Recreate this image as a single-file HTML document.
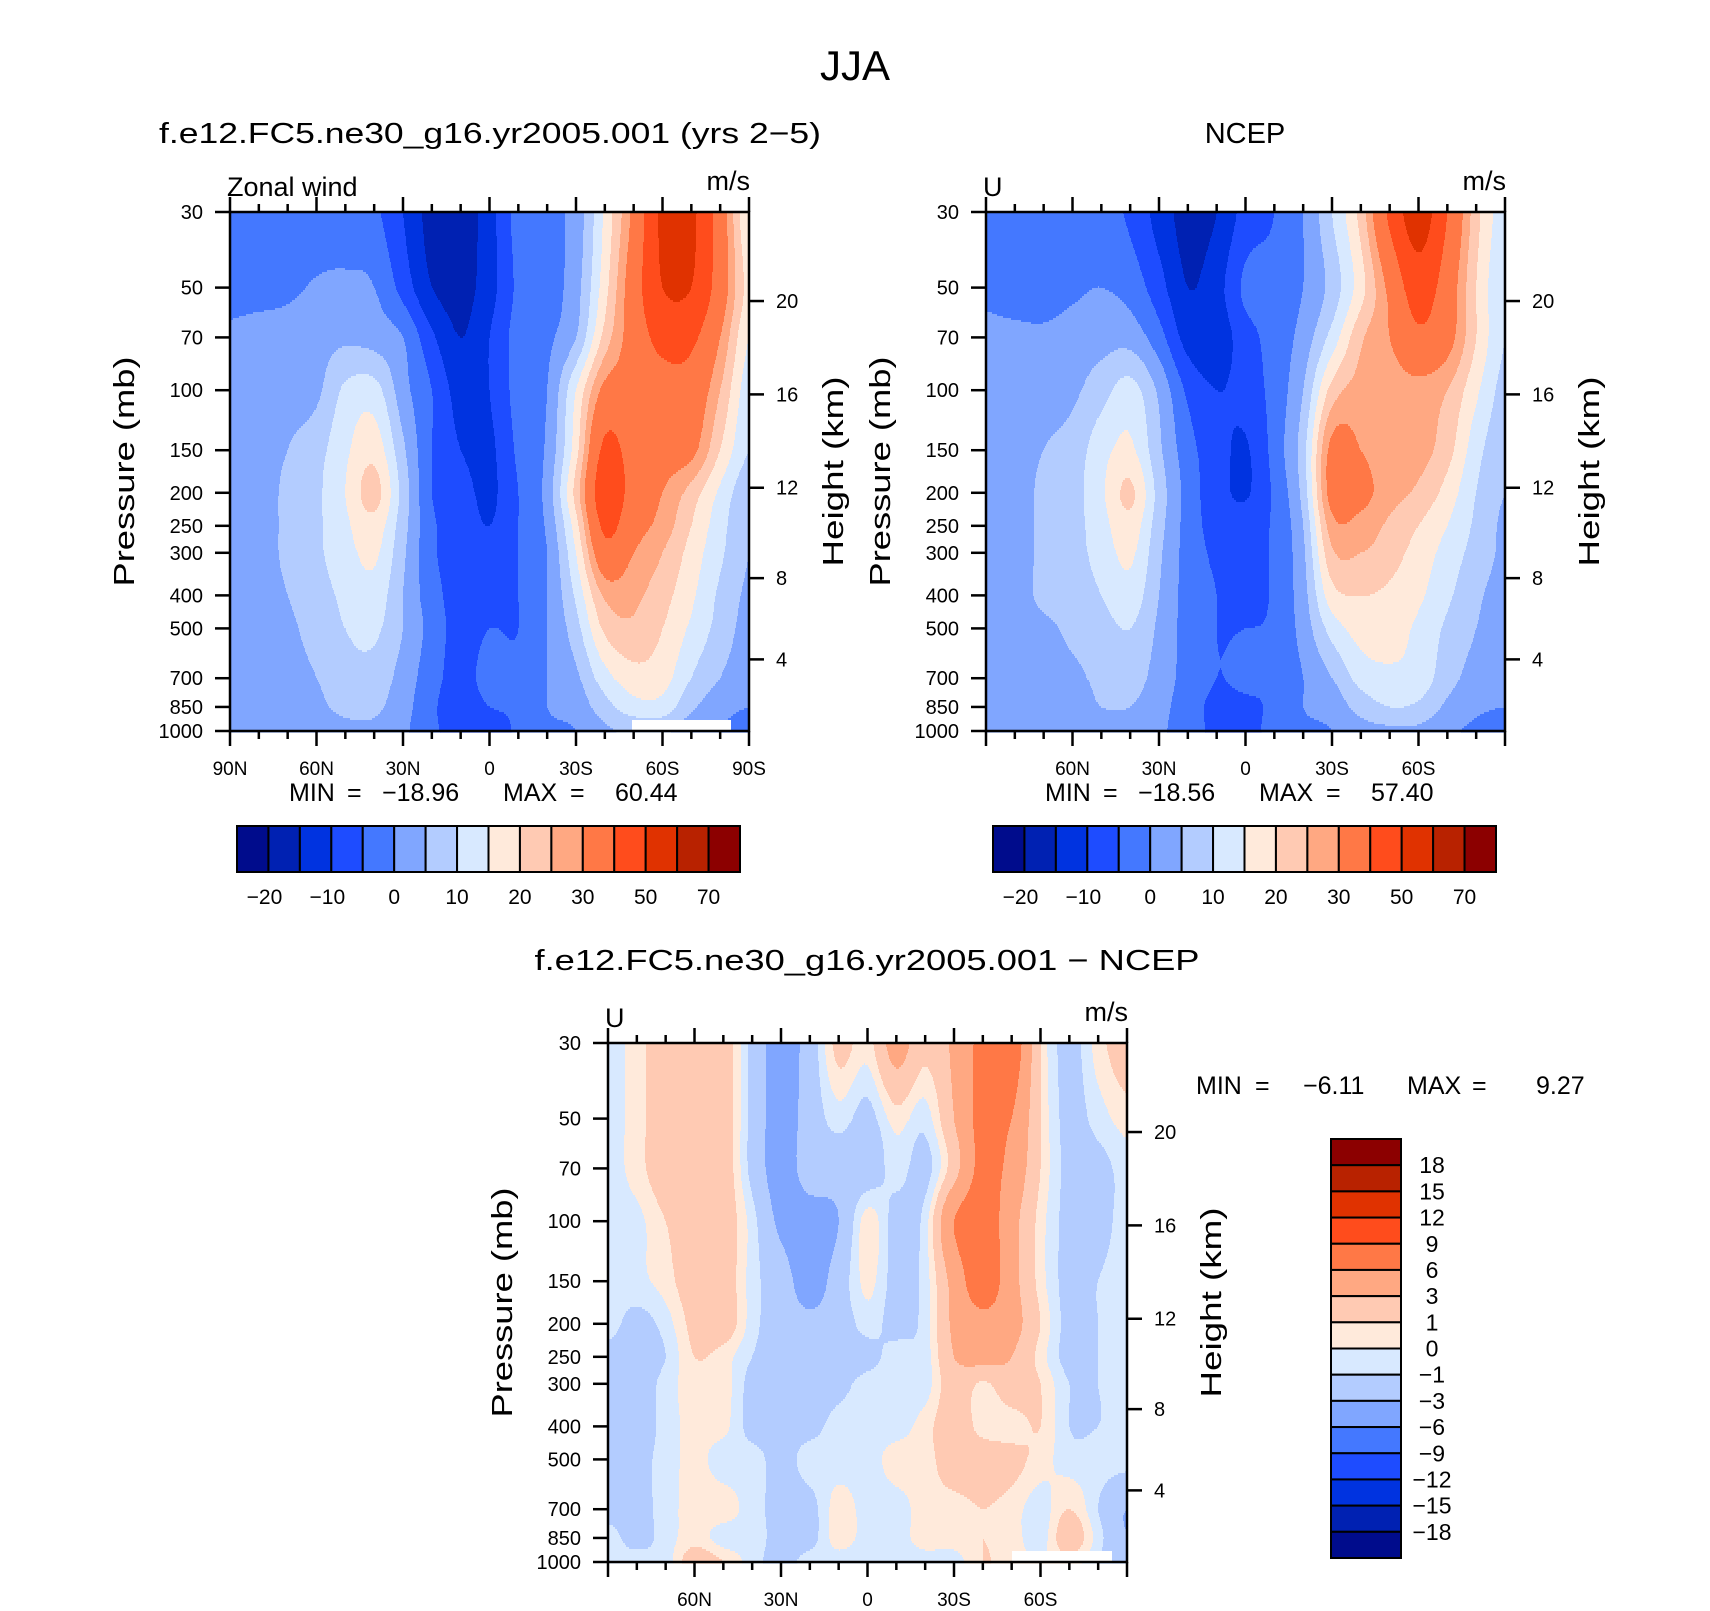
<!DOCTYPE html>
<html><head><meta charset="utf-8"><title>JJA Zonal wind</title>
<style>
html,body{margin:0;padding:0;background:#fff;}
svg{display:block;font-family:"Liberation Sans",sans-serif;}
text{fill:#000;}
</style></head>
<body>
<svg id="fig" xmlns="http://www.w3.org/2000/svg" width="1710" height="1611" viewBox="0 0 1710 1611">
<rect x="0" y="0" width="1710" height="1611" fill="#fff"/>
<text x="855" y="80" font-size="42" text-anchor="middle">JJA</text>
<text x="490" y="143" font-size="29" text-anchor="middle" textLength="662" lengthAdjust="spacingAndGlyphs">f.e12.FC5.ne30_g16.yr2005.001 (yrs 2−5)</text>
<text x="1245" y="143" font-size="29" text-anchor="middle">NCEP</text>
<text x="867" y="970" font-size="29" text-anchor="middle" textLength="665" lengthAdjust="spacingAndGlyphs">f.e12.FC5.ne30_g16.yr2005.001 − NCEP</text>
<g id="p1"></g>
<g id="p2"></g>
<g id="p3"></g>
</svg>
<script>
const lats = [90,80,70,60,50,40,30,20,10,0,-10,-20,-30,-40,-50,-60,-70,-80,-90];
const levels = [30,50,70,100,150,200,250,300,400,500,700,850,1000];
const modelU = [
 [-3,-3,-3,-3,-3,-4,-10,-17,-18,-12,-3,-1,2,16,32,52,52,35,15],
 [-2,-2,-1,0.5,1,0,-7,-15,-17,-12,-4,-2,3,18,35,50,50,35,18],
 [1,2,2,3,4,3,0,-9,-15,-10,-3,-1,5,22,34,43,42,30,15],
 [2,2,3,4,11,12,2,-5,-12,-10,-3,0,15,32,33,36,36,25,12],
 [2,3,5,8,14,18,6,-5,-10,-11,-4,1,18,42,36,34,32,20,10],
 [2,3,6,9,15,22,8,-5,-8,-11,-5,2,22,46,36,30,23,14,6],
 [2,3,6,9,14,18,7,-4,-7,-10,-5,1,18,42,33,28,20,12,5],
 [2,3,6,9,13,16,6,-4,-7,-8,-5,0,15,36,30,25,18,11,5],
 [2,3,5,8,11,13,5,-3,-7,-7,-5,0,11,26,26,22,16,9,4],
 [2,3,4,7,10,11,5,-2,-7,-5,-5,0,8,21,24,20,14,8,3],
 [2,2,3,5,8,8,3,-3,-7,-3,-4,0,4,13,18,17,10,5,2],
 [2,2,2,4,6,6,2,-4,-8,-5,-4,0,2,8,13,13,6,2,0],
 [2,2,2,3,4,4,1,-4,-7,-8,-4,-1,0,4,6,6,2,0,-3]
];
const ncepU = [
 [-3,-3,-3,-3,-3,-6,-12,-17,-15,-8,-5,0,10,22,42,55,40,22,12],
 [-1,-2,-2.5,-1,0,-2,-8,-15,-12,-4,-3,0,7,18,32,45,35,20,10],
 [1,1,1,2,3,3,-3,-12,-13,-7,-3,2,12,24,30,38,33,20,10],
 [2,2,3,4,8,12,4,-6,-10,-8,-3,5,22,27,27,28,25,16,8],
 [2,3,5,7,13,16,6,-3,-8,-10.5,-3,8,32,30,27,27,22,12,6],
 [2,3,6,8,14,21,8,-2,-8,-10.5,-4,7,33,32,27,24,18,10,5],
 [2,3,6,8,13,18,7,-2,-7,-8,-4,5,28,28,24,20,15,9,4],
 [2,3,6,8,12,16,6,-2,-6,-8,-4,4,24,25,22,18,13,8,4],
 [2,3,6,7,10,13,5,-2,-5,-8,-4,3,18,20,19,16,11,6,3],
 [2,3,4,6,8,10,4,-2,-5,-5,-4,2,12,17,17,14,9,5,2],
 [2,2,3,4,6,7,3,-2,-5,-4,-4,0,5,12,14,13,7,3,1],
 [2,2,2,3,5,5,2,-3,-6,-6,-4,0,2,7,10,9,4,1,0],
 [1,1,1,2,3,3,1,-3,-6,-7,-3,-1,0,3,4,4,1,-1,-3]
];
const diffU = [
 [-0.5,0.5,2,2,2,-1.5,-4,-2,1.5,0.5,4,1.5,3.5,7,8,1,-1.5,0.5,2],
 [-0.5,0.5,2,2,2,-1.5,-4,-2,-0.5,-1.5,0.5,-0.5,3,7,6,1,-1.5,-0.5,0.5],
 [-0.5,0.5,2,2,2,-1.5,-4,-2,-2,-2,-0.5,-1.5,2,7,5,1,-1.5,-1.5,-0.5],
 [-0.5,-0.3,1,2,2,-0.5,-3.5,-4,-3,0.5,-1.5,-0.5,6,8,4,0.5,-1.5,-1.5,-0.5],
 [-0.5,-0.3,0.5,2,2,-0.5,-2,-4,-2,0.3,-1.5,-0.5,4,8,4,0.5,-1.5,-1,-0.5],
 [-0.5,-1.5,-0.5,1.5,2,-0.5,-2,-2.5,-2,-0.5,-1.5,-0.5,3.5,5,4,1,-1.5,-1,-0.5],
 [-1.5,-2,-1,1,0.5,-1,-2,-2,-2,-1.5,-0.5,-0.5,3,4,3,0.5,-1.5,-1,-0.5],
 [-1.5,-2,-0.5,0.5,0.5,-1.5,-2,-2,-1.5,-0.5,-0.5,-0.5,2,0.8,2,1,-1,-1,-0.5],
 [-1.5,-2,-0.5,0.3,0.3,-1.5,-1.5,-1.5,-0.5,-0.5,-0.5,0.5,2,0.5,0.5,1,-1,-1,-0.5],
 [-1.5,-1.5,-0.5,0.3,-0.5,-0.5,-1.5,-0.5,-0.5,-0.5,0.5,0.5,2,2,1.5,0.5,-0.5,-0.5,-0.5],
 [-1.5,-1.5,-0.5,0.5,0.5,-0.5,-1.5,-1.5,0.5,-0.5,-0.5,0.5,0.5,1,0.5,-0.5,1,-1,-3],
 [-0.5,-1.5,-0.5,0.5,-0.5,-0.5,-1.5,-1.5,0.5,-0.5,-0.5,0.5,0.5,1,0.5,-0.5,2,-0.5,-3],
 [-0.5,-0.5,-0.5,2,1,-0.5,-1.5,-0.5,-0.5,-1,-0.5,-0.5,-0.5,1,0.5,0,0.5,-1,-3]
];
const meanBounds = [-20,-15,-10,-5,0,5,10,15,20,25,30,40,50,60,70];
const diffBounds = [-18,-15,-12,-9,-6,-3,-1,0,1,3,6,9,12,15,18];
const meanBarLabels = ['−20','−10','0','10','20','30','50','70'];
const diffBarLabels = ['−18','−15','−12','−9','−6','−3','−1','0','1','3','6','9','12','15','18'];
const pressureTicks = [30,50,70,100,150,200,250,300,400,500,700,850,1000];
const heightTicks = [4,8,12,16,20];
const latMajor = [90,60,30,0,-30,-60,-90];
const latLabelsFull = ['90N','60N','30N','0','30S','60S','90S'];
const modelMinMax = ['−18.96','60.44'];
const ncepMinMax = ['−18.56','57.40'];
const diffMinMax = ['−6.11','9.27'];

const palette = ['#000c8c','#0021b2','#0033e0','#1e4cff','#4478ff','#80a6ff','#b3ccff','#d8e9ff','#ffeadb','#ffcab3','#ffa882','#ff7846','#ff4c1c','#e03200','#b82200','#8c0000'];
const NS='http://www.w3.org/2000/svg';
const PW=519, PH=519;
function mk(tag, attrs, parent){const e=document.createElementNS(NS,tag);for(const k in attrs)e.setAttribute(k,attrs[k]);parent.appendChild(e);return e;}
const LN=Math.log(1000/30);
function yScale(p){return Math.log(p/30)/LN*PH;}
function xScale(lat){return (90-lat)/180*PW;}
function heightToP(z){const m=z*1000; if(m<=11000) return 1013.25*Math.pow(1-2.25577e-5*m,5.25588); return 226.32*Math.exp(-(m-11000)/6341.6);}
function cr(p0,p1,p2,p3,t){return 0.5*((2*p1)+(-p0+p2)*t+(2*p0-5*p1+4*p2-p3)*t*t+(-p0+3*p1-3*p2+p3)*t*t*t);}
function rowInterp(row,i0,a){const n=row.length;const g=i=>row[Math.max(0,Math.min(n-1,i))];return cr(g(i0-1),g(i0),g(i0+1),g(i0+2),a);}
function valueAt(grid, lat, p){
  let fi=(90-lat)/10; let i0=Math.min(17,Math.max(0,Math.floor(fi))); let a=fi-i0;
  let k=0; while(k<levels.length-2 && p>levels[k+1]) k++;
  let t=(Math.log(p)-Math.log(levels[k]))/(Math.log(levels[k+1])-Math.log(levels[k]));
  t=Math.max(0,Math.min(1,t));
  const nL=grid.length;
  const r=j=>rowInterp(grid[Math.max(0,Math.min(nL-1,j))],i0,a);
  return cr(r(k-1),r(k),r(k+1),r(k+2),t);
}
function cIndex(v,b){let n=0;for(const x of b) if(v>=x) n++; return n;}

function drawPanel(g, x0, y0, grid, bounds, opts){
  const fill=mk('g',{},g);
  
  
  const step=2;
  for(let py=0; py<PH; py+=step){
    const p=30*Math.exp((py+step/2)/PH*LN);
    let runStart=0, runC=-1;
    for(let px=0; px<=PW; px++){
      let c=-1;
      if(px<PW){const lat=90-(px+0.5)/PW*180; c=cIndex(valueAt(grid,lat,p),bounds);}
      if(c!==runC){
        if(runC>=0){
          const r=mk('rect',{x:x0+runStart,y:y0+py,width:px-runStart+0.6,height:step+0.6,fill:palette[runC]},fill);
          
          
        }
        runStart=px; runC=c;
      }
    }
  }
  if(opts.mask){
    const m=mk('rect',{x:x0+opts.mask[0],y:y0+PH-11,width:opts.mask[1],height:11,fill:'#fff'},g);
    
    
  }
  const ax=mk('g',{stroke:'#000','stroke-width':2.5,fill:'none'},g);
  
  
  mk('rect',{x:x0,y:y0,width:PW,height:PH},ax);
  for(let lat=90; lat>=-90; lat-=10){
    const x=x0+xScale(lat); const major=(lat%30===0); const L=major?15:8;
    mk('line',{x1:x,y1:y0,x2:x,y2:y0-L},ax);
    mk('line',{x1:x,y1:y0+PH,x2:x,y2:y0+PH+L},ax);
  }
  for(const p of pressureTicks){
    const y=y0+yScale(p);
    mk('line',{x1:x0,y1:y,x2:x0-15,y2:y},ax);
    const t=mk('text',{x:x0-27,y:y+7,'font-size':20,'text-anchor':'end',stroke:'none',fill:'#000'},g);
    t.textContent=String(p);
    
    
  }
  for(const z of heightTicks){
    const y=y0+yScale(heightToP(z));
    mk('line',{x1:x0+PW,y1:y,x2:x0+PW+15,y2:y},ax);
    const t=mk('text',{x:x0+PW+27,y:y+7,'font-size':20,stroke:'none',fill:'#000'},g);
    t.textContent=String(z);
    
    
  }
  latMajor.forEach((lat,i)=>{
    if(!opts.endLabels && (i===0||i===latMajor.length-1)) return;
    const t=mk('text',{x:x0+xScale(lat),y:y0+PH+44,'font-size':19,'text-anchor':'middle'},g);
    t.textContent=latLabelsFull[i];
    
    
  });
  const yl=mk('text',{x:0,y:0,'font-size':29,'text-anchor':'middle',transform:`translate(${x0-96},${y0+PH/2}) rotate(-90)`,textLength:230,lengthAdjust:'spacingAndGlyphs'},g);
  yl.textContent='Pressure (mb)';
  
  
  const hl=mk('text',{x:0,y:0,'font-size':29,'text-anchor':'middle',transform:`translate(${x0+PW+94},${y0+PH/2}) rotate(-90)`,textLength:190,lengthAdjust:'spacingAndGlyphs'},g);
  hl.textContent='Height (km)';
  
  
  const lt=mk('text',{x:x0-3,y:y0-16,'font-size':27},g);
  lt.textContent=opts.leftLabel;
  
  
  const rt=mk('text',{x:x0+PW+1,y:y0-22,'font-size':27,'text-anchor':'end'},g);
  rt.textContent='m/s';
  
  
}
function minMaxText(g, x, y, mm, xs){
  const parts=['MIN','=',mm[0],'MAX','=',mm[1]];
  parts.forEach((s,i)=>{
    const t=mk('text',{x:x+xs[i],y:y,'font-size':25},g);
    t.textContent=s;
    
    
  });
}
function hColorbar(g, x0, y0, bounds, labels){
  const bw=503/16;
  for(let i=0;i<16;i++){
    const r=mk('rect',{x:x0+i*bw,y:y0,width:bw,height:46,fill:palette[i],stroke:'#000','stroke-width':2},g);
    
    
  }
  labels.forEach((s,j)=>{
    const k=j*2;
    const t=mk('text',{x:x0+(k+1)*bw-(s.startsWith('−')?4:0),y:y0+78,'font-size':21,'text-anchor':'middle'},g);
    t.textContent=s;
    
    
  });
}
function vColorbar(g, x0, y0, bounds, labels){
  const bh=419/16;
  for(let i=0;i<16;i++){
    const r=mk('rect',{x:x0,y:y0+i*bh,width:70,height:bh,fill:palette[15-i],stroke:'#000','stroke-width':2},g);
    
    
  }
  labels.slice().reverse().forEach((s,i)=>{
    const t=mk('text',{x:x0+101,y:y0+(i+1)*bh+8,'font-size':23,'text-anchor':'middle'},g);
    t.textContent=s;
    
    
  });
}
const p1=document.getElementById('p1'), p2=document.getElementById('p2'), p3=document.getElementById('p3');
drawPanel(p1,230,212,modelU,meanBounds,{leftLabel:'Zonal wind',endLabels:true,mask:[402,99]});
drawPanel(p2,986,212,ncepU,meanBounds,{leftLabel:'U',endLabels:false});
drawPanel(p3,608,1043,diffU,diffBounds,{leftLabel:'U',endLabels:false,mask:[404,100]});
const mmX=[0,58,93,214,281,326];
minMaxText(p1,289,801,modelMinMax,mmX);
minMaxText(p2,1045,801,ncepMinMax,mmX);
minMaxText(p3,1196,1094,diffMinMax,[0,59,107,211,276,340]);
const cb1=mk('g',{},p1);  
hColorbar(cb1,237,826,meanBounds,meanBarLabels);
const cb2=mk('g',{},p2);  
hColorbar(cb2,993,826,meanBounds,meanBarLabels);
const cb3=mk('g',{},p3);  
vColorbar(cb3,1331,1139,diffBounds,diffBarLabels);
</script>
</body></html>
